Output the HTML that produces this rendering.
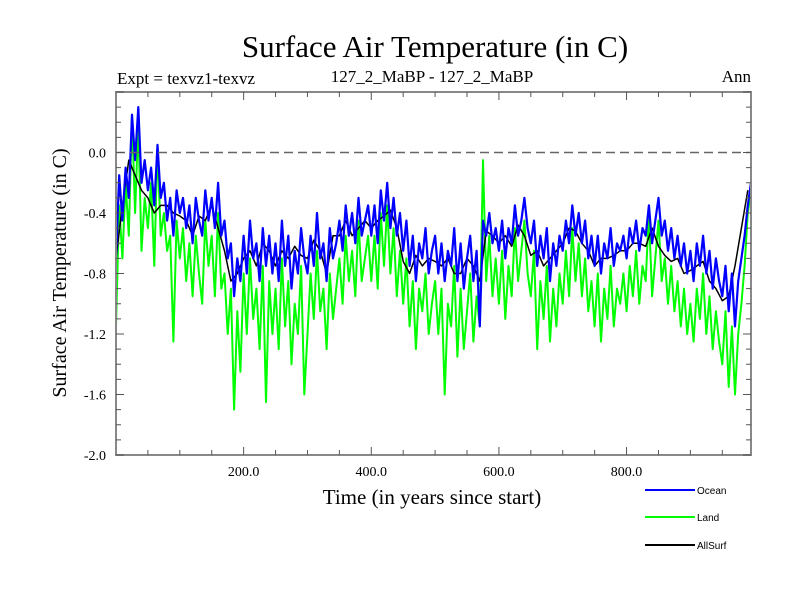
<!DOCTYPE html>
<html><head><meta charset="utf-8"><style>
body{margin:0;background:#fff}
svg text{font-family:"Liberation Serif",serif}
</style></head><body>
<svg id="c" width="800" height="600" xmlns="http://www.w3.org/2000/svg">
<text x="435" y="57" font-size="31" text-anchor="middle">Surface Air Temperature (in C)</text>
<text x="117" y="84" font-size="17">Expt = texvz1-texvz</text>
<text x="432" y="82" font-size="17" text-anchor="middle">127_2_MaBP - 127_2_MaBP</text>
<text x="751" y="82" font-size="17" text-anchor="end">Ann</text>
<text x="432" y="504" font-size="21" text-anchor="middle">Time (in years since start)</text>
<text transform="translate(66,273) rotate(-90)" font-size="20" text-anchor="middle">Surface Air Temperature (in C)</text>
<g id="plot"></g>
<g>
<line x1="645" y1="490" x2="695" y2="490" stroke="#0000ff" stroke-width="2"/>
<text x="697" y="494" font-size="10" style="font-family:'Liberation Sans',sans-serif">Ocean</text>
<line x1="645" y1="517" x2="695" y2="517" stroke="#00ff00" stroke-width="2"/>
<text x="697" y="521" font-size="10" style="font-family:'Liberation Sans',sans-serif">Land</text>
<line x1="645" y1="545" x2="695" y2="545" stroke="#000" stroke-width="2"/>
<text x="697" y="549" font-size="10" style="font-family:'Liberation Sans',sans-serif">AllSurf</text>
</g>
</svg>
<script>
const oceanVals=[-0.70,-0.15,-0.45,-0.10,-0.30,0.25,-0.05,0.30,-0.20,-0.05,
-0.25,-0.10,-0.35,0.05,-0.30,-0.20,-0.45,-0.30,-0.55,-0.25,
-0.40,-0.30,-0.50,-0.35,-0.60,-0.30,-0.45,-0.55,-0.25,-0.45,
-0.30,-0.50,-0.20,-0.55,-0.45,-0.70,-0.60,-0.95,-0.70,-0.85,
-0.55,-0.80,-0.45,-0.70,-0.60,-0.85,-0.50,-0.75,-0.55,-0.80,
-0.60,-0.85,-0.45,-0.75,-0.55,-0.90,-0.65,-0.80,-0.50,-0.70,
-0.80,-0.55,-0.75,-0.40,-0.70,-0.60,-0.85,-0.50,-0.70,-0.60,
-0.45,-0.65,-0.35,-0.55,-0.40,-0.60,-0.30,-0.55,-0.45,-0.35,
-0.55,-0.35,-0.60,-0.25,-0.45,-0.20,-0.50,-0.30,-0.55,-0.40,
-0.65,-0.45,-0.75,-0.55,-0.85,-0.60,-0.70,-0.50,-0.80,-0.65,
-0.55,-0.80,-0.60,-0.85,-0.65,-0.75,-0.50,-0.85,-0.60,-0.90,
-0.70,-0.55,-0.85,-0.65,-1.15,-0.45,-0.55,-0.40,-0.60,-0.50,
-0.65,-0.45,-0.70,-0.50,-0.60,-0.35,-0.55,-0.45,-0.30,-0.50,
-0.60,-0.45,-0.75,-0.55,-0.70,-0.50,-0.85,-0.60,-0.75,-0.55,
-0.65,-0.45,-0.60,-0.35,-0.55,-0.40,-0.60,-0.45,-0.70,-0.55,
-0.75,-0.55,-0.80,-0.60,-0.70,-0.50,-0.75,-0.60,-0.65,-0.55,
-0.70,-0.50,-0.60,-0.45,-0.65,-0.50,-0.55,-0.35,-0.60,-0.45,
-0.30,-0.55,-0.45,-0.65,-0.50,-0.70,-0.55,-0.75,-0.60,-0.80,
-0.65,-0.85,-0.60,-0.75,-0.55,-0.80,-0.65,-0.90,-0.70,-0.85,
-0.95,-0.75,-1.05,-0.80,-1.15,-0.85,-0.70,-0.55,-0.35,-0.20];
const landVals=[-1.15,-0.35,-0.70,-0.20,-0.55,0.25,-0.40,0.20,-0.65,-0.30,
-0.50,-0.20,-0.75,0.05,-0.55,-0.40,-0.65,-0.55,-1.25,-0.45,
-0.70,-0.50,-0.85,-0.60,-0.95,-0.55,-0.80,-1.00,-0.45,-0.75,
-0.55,-0.95,-0.40,-0.90,-0.80,-1.20,-0.90,-1.70,-1.05,-1.45,
-0.80,-1.20,-0.70,-1.10,-0.90,-1.30,-0.75,-1.65,-0.85,-1.20,
-0.90,-1.30,-0.70,-1.15,-0.85,-1.40,-1.00,-1.20,-0.75,-1.60,
-1.20,-0.80,-1.10,-0.65,-1.05,-0.90,-1.30,-0.80,-1.10,-0.90,
-0.70,-1.00,-0.55,-0.85,-0.65,-0.95,-0.45,-0.85,-0.70,-0.55,
-0.85,-0.55,-0.90,-0.40,-0.75,-0.35,-0.80,-0.50,-0.95,-0.65,
-1.00,-0.70,-1.15,-0.85,-1.30,-0.90,-1.05,-0.80,-1.20,-1.00,
-0.85,-1.20,-0.90,-1.60,-1.00,-1.15,-0.75,-1.35,-0.90,-1.30,
-1.05,-0.80,-1.25,-0.95,-1.15,-0.05,-0.85,-0.55,-0.95,-0.70,
-1.00,-0.65,-1.10,-0.75,-0.95,-0.50,-0.85,-0.65,-0.45,-0.80,
-0.95,-0.65,-1.30,-0.85,-1.10,-0.75,-1.25,-0.90,-1.15,-0.80,
-1.00,-0.65,-0.95,-0.50,-0.85,-0.60,-0.95,-0.70,-1.05,-0.85,
-1.15,-0.80,-1.25,-0.90,-1.10,-0.75,-1.15,-0.90,-1.00,-0.80,
-1.05,-0.75,-0.95,-0.65,-1.00,-0.75,-0.85,-0.40,-0.95,-0.70,
-0.45,-0.85,-0.70,-1.00,-0.75,-1.05,-0.85,-1.15,-0.90,-1.20,
-1.00,-1.25,-0.90,-1.10,-0.80,-1.20,-0.95,-1.30,-1.05,-1.25,
-1.40,-1.05,-1.55,-1.15,-1.60,-1.20,-1.00,-0.75,-0.40,-0.25];
const allVals=[-0.7,-0.35,-0.05,-0.15,-0.25,-0.3,-0.4,-0.35,-0.35,-0.4,
-0.42,-0.45,-0.55,-0.42,-0.45,-0.35,-0.5,-0.65,-0.85,-0.8,
-0.7,-0.65,-0.75,-0.6,-0.65,-0.75,-0.65,-0.7,-0.62,-0.68,
-0.7,-0.58,-0.65,-0.8,-0.55,-0.55,-0.45,-0.55,-0.5,-0.45,
-0.5,-0.45,-0.42,-0.38,-0.5,-0.72,-0.8,-0.68,-0.75,-0.7,
-0.72,-0.75,-0.7,-0.8,-0.8,-0.7,-0.75,-0.85,-0.52,-0.55,
-0.6,-0.55,-0.62,-0.48,-0.55,-0.68,-0.65,-0.75,-0.7,-0.65,
-0.6,-0.5,-0.52,-0.6,-0.65,-0.75,-0.7,-0.7,-0.68,-0.65,
-0.65,-0.6,-0.6,-0.62,-0.5,-0.62,-0.68,-0.72,-0.7,-0.8,
-0.78,-0.75,-0.72,-0.85,-0.9,-0.98,-0.95,-0.75,-0.5,-0.25];
const yTicks=[0.0,-0.4,-0.8,-1.2,-1.6,-2.0];
const yTickLabels=["0.0","-0.4","-0.8","-1.2","-1.6","-2.0"];
const xTicks=[200,400,600,800];
const xTickLabels=["200.0","400.0","600.0","800.0"];

const L=116,R=751,T=92,B=455,XMIN=0,XMAX=995,YMIN=-2.0,YMAX=0.4;
const sx=v=>L+(v-XMIN)/(XMAX-XMIN)*(R-L);
const sy=v=>B-(v-YMIN)/(YMAX-YMIN)*(B-T);
const NS="http://www.w3.org/2000/svg";
const g=document.getElementById('plot');
function mk(t,a){const e=document.createElementNS(NS,t);for(const k in a)e.setAttribute(k,a[k]);g.appendChild(e);return e;}
function series(vals,step,color,name,w){
  const d=vals.map((v,i)=>(i?'L':'M')+sx(i*step).toFixed(1)+','+sy(v).toFixed(1)).join('');
  const p=mk('path',{d:d,fill:'none',stroke:color,'stroke-width':w,'stroke-linejoin':'round'});
  
  
}
series(landVals,5,'#00ff00','land-series',2);
series(allVals,10,'#000000','allsurf-series',1.5);
series(oceanVals,5,'#0000ff','ocean-series',2.2);
const z=mk('line',{x1:L,x2:R,y1:sy(0),y2:sy(0),stroke:'#666','stroke-width':1.5,'stroke-dasharray':'9,5'});


const fr=mk('rect',{x:L,y:T,width:R-L,height:B-T,fill:'none',stroke:'#888','stroke-width':2});


for(let v=-2.0;v<=0.4001;v+=0.1){
  const y=sy(v),maj=Math.abs(Math.round(v*10)%4)===0;const len=maj?8:5;
  const t1=mk('line',{x1:L,x2:L+len,y1:y,y2:y,stroke:'#555','stroke-width':1});
  
  
  const t2=mk('line',{x1:R-len,x2:R,y1:y,y2:y,stroke:'#555','stroke-width':1});
  
  
}
for(let v=50;v<XMAX;v+=50){
  const x=sx(v),maj=v%200===0;const len=maj?8:5;
  const t1=mk('line',{x1:x,x2:x,y1:B,y2:B-len,stroke:'#555','stroke-width':1});
  
  
  const t2=mk('line',{x1:x,x2:x,y1:T,y2:T+len,stroke:'#555','stroke-width':1});
  
  
}
yTicks.forEach((v,i)=>{
  const t=mk('text',{x:106,y:sy(v)+5,'font-size':14,'text-anchor':'end'});t.textContent=yTickLabels[i];
  
  
});
xTicks.forEach((v,i)=>{
  const t=mk('text',{x:sx(v),y:476,'font-size':14,'text-anchor':'middle'});t.textContent=xTickLabels[i];
  
  
});
</script>
</body></html>
